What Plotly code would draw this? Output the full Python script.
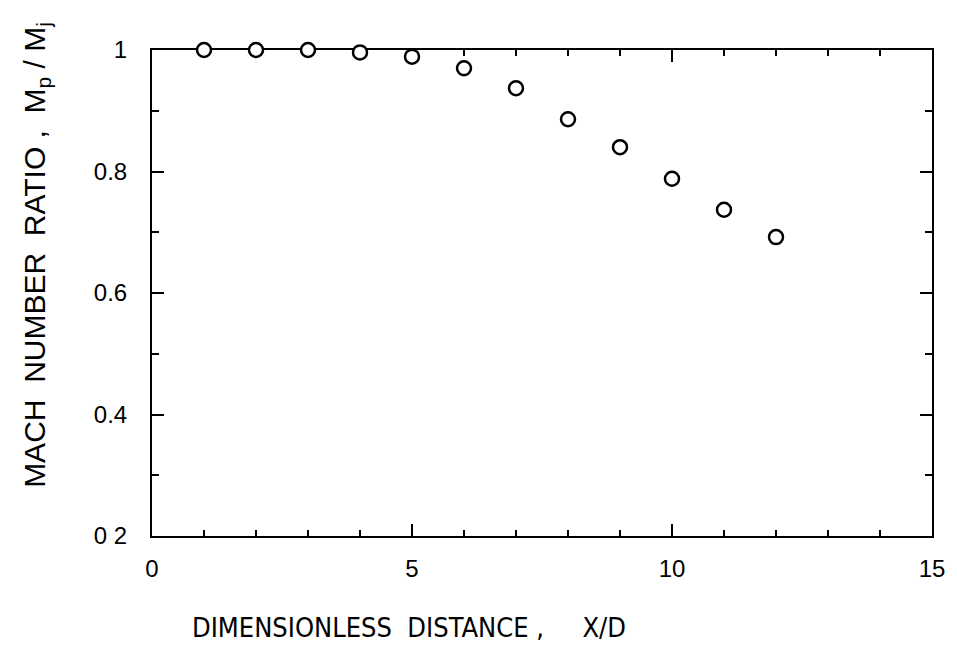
import plotly.graph_objects as go

x_over_d = [1, 2, 3, 4, 5, 6, 7, 8, 9, 10, 11, 12]
mach_ratio = [1.0, 1.0, 1.0, 0.996, 0.989, 0.970, 0.937, 0.886, 0.840, 0.788, 0.737, 0.692]

x_tickvals = [0, 5, 10, 15]
x_ticktext = ["0", "5", "10", "15"]
y_tickvals = [0.2, 0.4, 0.6, 0.8, 1.0]
y_ticktext = ["0 2", "0.4", "0.6", "0.8", "1"]

x_title = "DIMENSIONLESS  DISTANCE ,     X/D"
y_title = "MACH  NUMBER  RATIO ,  M<sub>p</sub> / M<sub>j</sub>"

fig = go.Figure()
fig.add_trace(go.Scatter(
    x=x_over_d, y=mach_ratio, mode="markers",
    marker=dict(symbol="circle", size=14, color="white",
                line=dict(color="black", width=2.5)),
    cliponaxis=False, showlegend=False,
))

axis_common = dict(
    showgrid=False, zeroline=False, showline=True, linecolor="black", linewidth=2,
    mirror="ticks", ticks="inside", ticklen=12, tickwidth=2, tickcolor="black",
    tickfont=dict(family="Liberation Sans, Arial", size=24, color="black"),
    layer="below traces",
)

fig.update_xaxes(
    range=[0, 15], tickvals=x_tickvals, ticktext=x_ticktext,
    minor=dict(dtick=1, ticks="inside", ticklen=6, tickwidth=2, tickcolor="black"),
    ticklabelstandoff=10,
    **axis_common,
)
fig.update_yaxes(
    range=[0.2, 1.0], tickvals=y_tickvals, ticktext=y_ticktext,
    minor=dict(dtick=0.1, ticks="inside", ticklen=7, tickwidth=2, tickcolor="black"),
    ticklabelstandoff=18,
    **axis_common,
)

fig.add_annotation(
    text=x_title, xref="paper", yref="paper", x=0.330, y=-0.189,
    xanchor="center", yanchor="middle", showarrow=False,
    font=dict(family="DejaVu Sans Condensed, Liberation Sans", size=27, color="black"),
)
fig.add_annotation(
    text=y_title, xref="paper", yref="paper", x=-0.149, y=0.578,
    xanchor="center", yanchor="middle", textangle=-90, showarrow=False,
    font=dict(family="Liberation Sans, Arial", size=30, color="black"),
)

fig.update_layout(
    width=949, height=639,
    margin=dict(l=144, r=21, t=42, b=111),
    paper_bgcolor="white", plot_bgcolor="white",
)

fig.write_html("out.html")
